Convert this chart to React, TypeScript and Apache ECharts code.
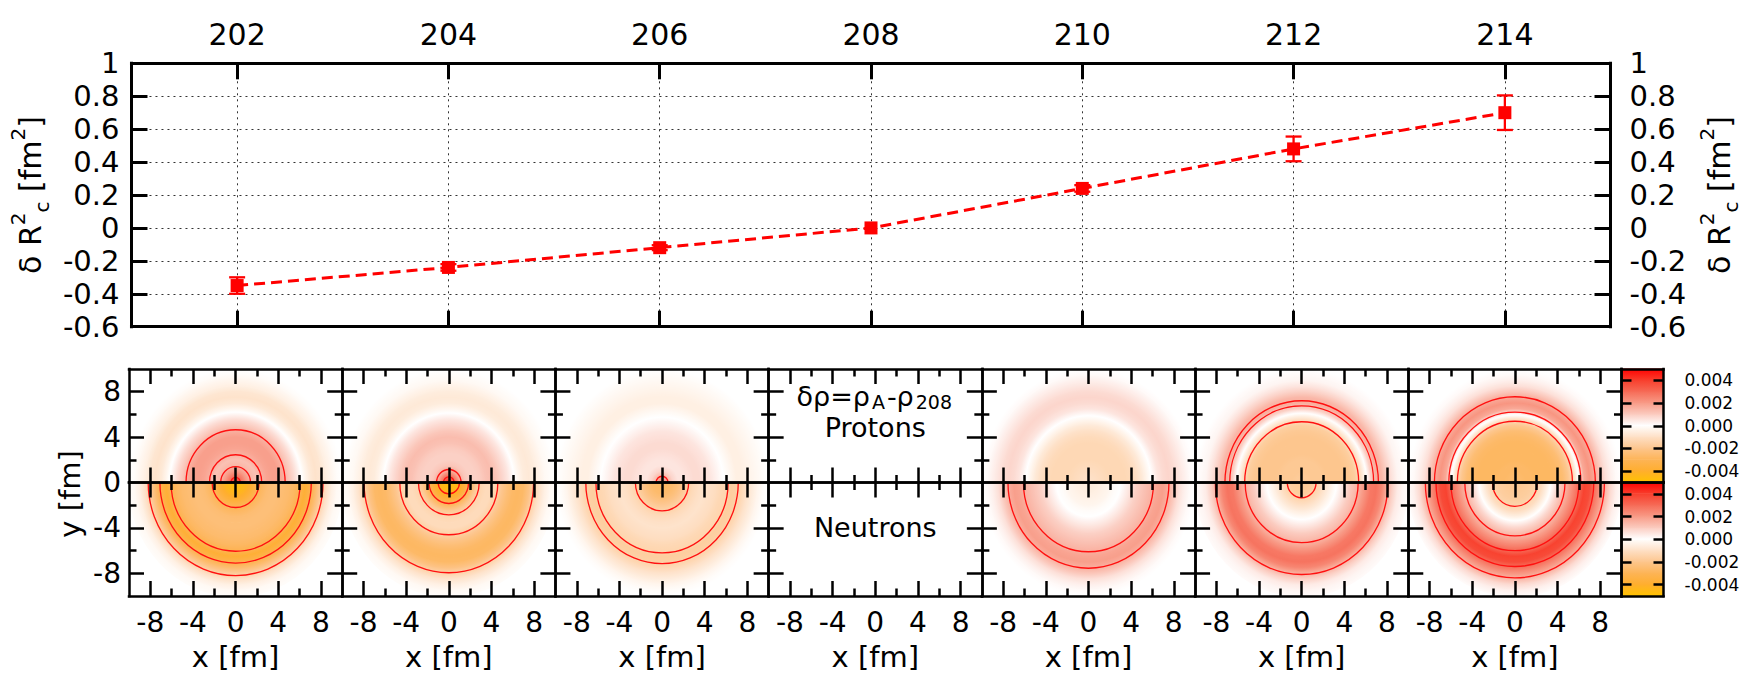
import React, { useEffect, useRef } from 'react';
import * as echarts from 'echarts';

const W = 1749;
const H = 677;
const FONT = '"DejaVu Sans", "Liberation Sans", Arial, sans-serif';

// ---------------- top panel: delta R^2_c versus mass number ----------------
const MASS = [202, 204, 206, 208, 210, 212, 214];
const DELTA_R2 = [-0.35, -0.24, -0.12, 0.0, 0.24, 0.48, 0.7];
const DELTA_R2_ERR = [0.05, 0.02, 0.015, 0, 0.02, 0.075, 0.105];
const TOP_X_MIN = 201;
const TOP_X_MAX = 215;
const TOP_Y_MIN = -0.6;
const TOP_Y_MAX = 1;
const TOP_Y_STEP = 0.2;

// ---------------- bottom panels: radial density difference profiles ----------------
const PANEL_A = [202, 204, 206, 208, 210, 212, 214];
const RADII = [0, 0.5, 1, 1.5, 2, 2.5, 3, 3.5, 4, 4.5, 5, 5.5, 6, 6.5, 7, 7.5, 8, 8.5, 9, 9.5, 10];

const DRHO_P202 = [0.0042, 0.0029, 0.002, 0.0014, 0.0012, 0.00155, 0.0018, 0.0019, 0.0019, 0.0016, 0.0011, 0.0007, 0.0002, -0.0003, -0.0007, -0.0009, -0.0008, -0.0005, -0.0003, -0.0001, 0];
const DRHO_N202 = [-0.0047, -0.0046, -0.0043, -0.0038, -0.0032, -0.0028, -0.0025, -0.0024, -0.0024, -0.0025, -0.0026, -0.0028, -0.0031, -0.0038, -0.0033, -0.0026, -0.0018, -0.001, -0.0005, -0.0002, -0.0001];
const DRHO_P204 = [0.0042, 0.003, 0.0017, 0.0011, 0.0009, 0.0009, 0.001, 0.0012, 0.0013, 0.0011, 0.0008, 0.0005, 0.0001, -0.0003, -0.0006, -0.0007, -0.0006, -0.0004, -0.0002, -0.0001, 0];
const DRHO_N204 = [-0.0047, -0.0046, -0.0043, -0.0036, -0.0028, -0.0019, -0.0014, -0.0012, -0.0012, -0.0015, -0.002, -0.0024, -0.0027, -0.0028, -0.0027, -0.0022, -0.0015, -0.0009, -0.0005, -0.0002, -0.0001];
const DRHO_P206 = [0.0025, 0.0015, 0.0008, 0.0005, 0.0005, 0.0006, 0.0007, 0.0007, 0.0006, 0.0005, 0.0003, 0.0001, -0.0001, -0.0003, -0.0005, -0.0005, -0.0004, -0.0003, -0.0002, -0.0001, 0];
const DRHO_N206 = [-0.0028, -0.0027, -0.0026, -0.0023, -0.0019, -0.0015, -0.0012, -0.001, -0.0009, -0.001, -0.0011, -0.0013, -0.0014, -0.0017, -0.0016, -0.0013, -0.0009, -0.0006, -0.0003, -0.0001, 0];
const DRHO_P210 = [-0.0009, -0.001, -0.0011, -0.0012, -0.0013, -0.0013, -0.0013, -0.0013, -0.0012, -0.001, -0.0007, -0.0003, 0.0001, 0.0005, 0.0007, 0.0008, 0.0007, 0.0005, 0.0003, 0.0001, 0];
const DRHO_N210 = [-0.0006, -0.0006, -0.0005, -0.0004, -0.0003, -0.0001, 0, 0.0003, 0.0006, 0.0009, 0.0011, 0.0013, 0.0015, 0.0018, 0.0019, 0.0016, 0.0011, 0.0006, 0.0003, 0.0001, 0];
const DRHO_P212 = [-0.0018, -0.0018, -0.0019, -0.0019, -0.0019, -0.002, -0.002, -0.002, -0.002, -0.0019, -0.0017, -0.0011, -0.0002, 0.0009, 0.0016, 0.0014, 0.0009, 0.0005, 0.0002, 0.0001, 0];
const DRHO_N212 = [-0.0018, -0.0018, -0.0017, -0.0014, -0.001, -0.0006, -0.0002, 0.0002, 0.0006, 0.001, 0.0013, 0.0017, 0.0022, 0.0027, 0.0028, 0.0024, 0.0016, 0.0009, 0.0004, 0.0002, 0.0001];
const DRHO_P214 = [-0.0026, -0.0026, -0.0027, -0.0027, -0.0028, -0.0028, -0.0028, -0.0028, -0.0027, -0.0025, -0.002, -0.0012, 0.0001, 0.0017, 0.0021, 0.0017, 0.0011, 0.0006, 0.0003, 0.0001, 0];
const DRHO_N214 = [-0.0019, -0.0019, -0.0018, -0.0017, -0.0015, -0.0011, -0.0005, 0.0002, 0.0008, 0.0013, 0.0018, 0.0024, 0.003, 0.0039, 0.0037, 0.0028, 0.0021, 0.0014, 0.0007, 0.0003, 0.0001];

// contour radii (fm)
const CONTOUR_P202 = [0.45, 1.4, 2.45, 4.65];
const CONTOUR_N202 = [2.2, 6.05, 7.1, 8.2];
const CONTOUR_P204 = [0.5, 1.15];
const CONTOUR_N204 = [1.0, 1.85, 2.85, 4.6, 7.95];
const CONTOUR_P206 = [0.55];
const CONTOUR_N206 = [2.5, 6.2, 7.15];
const CONTOUR_P210: number[] = [];
const CONTOUR_N210 = [6.1, 7.55];
const CONTOUR_P212 = [5.35, 6.75, 7.2];
const CONTOUR_N212 = [1.35, 5.3, 8.1];
const CONTOUR_P214 = [5.4, 6.2, 7.55];
const CONTOUR_N214 = [2.1, 4.7, 6.0, 7.4, 8.4];

const PROFILES: Record<string, number[]> = {
  P202: DRHO_P202, N202: DRHO_N202, P204: DRHO_P204, N204: DRHO_N204,
  P206: DRHO_P206, N206: DRHO_N206, P210: DRHO_P210, N210: DRHO_N210,
  P212: DRHO_P212, N212: DRHO_N212, P214: DRHO_P214, N214: DRHO_N214,
};
const CONTOURS: Record<string, number[]> = {
  P202: CONTOUR_P202, N202: CONTOUR_N202, P204: CONTOUR_P204, N204: CONTOUR_N204,
  P206: CONTOUR_P206, N206: CONTOUR_N206, P210: CONTOUR_P210, N210: CONTOUR_N210,
  P212: CONTOUR_P212, N212: CONTOUR_N212, P214: CONTOUR_P214, N214: CONTOUR_N214,
};

const PANEL_TICKS_MAJOR = [-8, -4, 0, 4, 8];
const PANEL_TICKS_MINOR = [-6, -2, 2, 6];
const PANEL_Y_MAJOR_P = [4, 8];
const PANEL_Y_MINOR_P = [2, 6];
const PANEL_Y_MAJOR_N = [-8, -4];
const PANEL_Y_MINOR_N = [-6, -2];
const PANEL_Y_LABELS_P = [0, 4, 8];
const PANEL_Y_LABELS_N = [-8, -4];

// colour bar
const CB_MIN = -0.005;
const CB_MAX = 0.005;
const CB_TICKS = [-0.004, -0.002, 0, 0.002, 0.004];
const PALETTE_VALUES = [-0.005, -0.004, -0.003, -0.002, -0.001, 0, 0.001, 0.002, 0.003, 0.004, 0.005];
const PALETTE_COLORS = ['#ffc200', '#ffae2e', '#fdb457', '#fdc68e', '#fee0c6', '#ffffff', '#fbcbbf', '#f89a86', '#f66a56', '#f83e2c', '#ff0000'];

// ---------------- layout ----------------
const L = 129;
const R = 1621.5;
const TOP_T = 63.3;
const TOP_B = 326.7;
const PW = (R - L) / 7;
const P_T = 369;
const P_M = 482.5;
const P_B = 596;
const CB_W = 42;
const PLW = 2.5;

function colorAt(v: number): string {
  let t = (v - CB_MIN) / (CB_MAX - CB_MIN);
  t = Math.max(0, Math.min(1, t));
  return echarts.color.lerp(t, PALETTE_COLORS) as string;
}

function halfAngles(half: string) {
  return half === 'P' ? [Math.PI, 2 * Math.PI] : [0, Math.PI];
}

function ringRender(half: string) {
  const [a0, a1] = halfAngles(half);
  return (params: any, api: any) => {
    const r0 = api.value(0);
    const r1 = api.value(1);
    const v0 = api.value(2);
    const v1 = api.value(3);
    const c = api.coord([0, 0]);
    const sx = api.size([1, 0])[0];
    const sy = api.size([0, 1])[1];
    const R0 = r0 * sx;
    const Rd = r1 * sx;
    const R1 = Rd + 0.9;
    const stops: any[] = [];
    const n = 8;
    for (let k = 0; k <= n; k++) {
      const t = k / n;
      stops.push({ offset: (R0 + (Rd - R0) * t) / R1, color: colorAt(v0 + (v1 - v0) * t) });
    }
    stops.push({ offset: 1, color: colorAt(v1) });
    return {
      type: 'sector',
      x: c[0],
      y: c[1],
      scaleY: sy / sx,
      shape: { cx: 0, cy: 0, r0: R0, r: R1, startAngle: a0, endAngle: a1, clockwise: true },
      style: { fill: new echarts.graphic.RadialGradient(0, 0, R1, stops, true) },
    };
  };
}

function contourRender(half: string) {
  const [a0, a1] = halfAngles(half);
  return (params: any, api: any) => {
    const r = api.value(0);
    const c = api.coord([0, 0]);
    const sx = api.size([1, 0])[0];
    const sy = api.size([0, 1])[1];
    return {
      type: 'arc',
      x: c[0],
      y: c[1],
      scaleY: sy / sx,
      shape: { cx: 0, cy: 0, r: r * sx, startAngle: a0, endAngle: a1, clockwise: true },
      style: { stroke: '#ff1010', lineWidth: 1.3, fill: 'none', strokeNoScale: true },
    };
  };
}

const lineStyleBlack = (w: number) => ({ color: '#000', width: w, cap: 'square' });

function panelAxis(kind: 'x' | 'y', gi: number, position: string, min: number, max: number, ticks: number[], len: number, withLine: boolean, labels?: number[], extra?: any) {
  const ax: any = {
    gridIndex: gi,
    type: 'value',
    position,
    min,
    max,
    z: 5,
    axisLine: { show: withLine, onZero: false, lineStyle: lineStyleBlack(PLW) },
    axisTick: { show: true, inside: true, length: len, customValues: ticks, lineStyle: { color: '#000', width: PLW } },
    axisLabel: labels
      ? { show: true, customValues: labels, margin: kind === 'x' ? 12 : 8, fontSize: 28, color: '#000', fontFamily: FONT }
      : { show: false },
    splitLine: { show: false },
  };
  return Object.assign(ax, extra || {});
}

function buildOption(): any {
  const grid: any[] = [];
  const xAxis: any[] = [];
  const yAxis: any[] = [];
  const series: any[] = [];

  // ---------------- top plot ----------------
  grid.push({ left: L, top: TOP_T, width: R - L, height: TOP_B - TOP_T });
  const dotted = { color: '#333', width: 1, type: [2, 4] };
  const yTitle = '{t|δ R}{sup|2}{sub|c}{t| [fm}{sup|2}{t|]}';
  const yTitleStyle = {
    color: '#000',
    fontFamily: FONT,
    fontSize: 30,
    rich: {
      t: { fontSize: 30, lineHeight: 44, fontFamily: FONT, color: '#000' },
      sup: { fontSize: 20, lineHeight: 22, verticalAlign: 'top', fontFamily: FONT, color: '#000' },
      sub: { fontSize: 20, lineHeight: 22, verticalAlign: 'bottom', fontFamily: FONT, color: '#000' },
    },
  };
  xAxis.push({
    gridIndex: 0, type: 'value', position: 'top', min: TOP_X_MIN, max: TOP_X_MAX,
    axisLine: { show: true, onZero: false, lineStyle: lineStyleBlack(3) },
    axisTick: { show: true, inside: true, length: 16, customValues: MASS, lineStyle: { color: '#000', width: 3 } },
    axisLabel: { show: true, customValues: MASS, margin: 14, fontSize: 30, color: '#000', fontFamily: FONT },
    splitLine: { show: true, lineStyle: dotted },
  });
  xAxis.push({
    gridIndex: 0, type: 'value', position: 'bottom', min: TOP_X_MIN, max: TOP_X_MAX,
    axisLine: { show: true, onZero: false, lineStyle: lineStyleBlack(3) },
    axisTick: { show: true, inside: true, length: 16, customValues: MASS, lineStyle: { color: '#000', width: 3 } },
    axisLabel: { show: false },
    splitLine: { show: false },
  });
  yAxis.push({
    gridIndex: 0, type: 'value', position: 'left', min: TOP_Y_MIN, max: TOP_Y_MAX, interval: TOP_Y_STEP,
    axisLine: { show: true, onZero: false, lineStyle: lineStyleBlack(3) },
    axisTick: { show: true, inside: true, length: 16, lineStyle: { color: '#000', width: 3 } },
    axisLabel: { margin: 12, fontSize: 29, color: '#000', fontFamily: FONT },
    splitLine: { show: true, lineStyle: dotted },
    name: yTitle, nameLocation: 'middle', nameRotate: 90, nameGap: 68, nameTextStyle: yTitleStyle,
  });
  yAxis.push({
    gridIndex: 0, type: 'value', position: 'right', min: TOP_Y_MIN, max: TOP_Y_MAX, interval: TOP_Y_STEP,
    axisLine: { show: true, onZero: false, lineStyle: lineStyleBlack(3) },
    axisTick: { show: true, inside: true, length: 16, lineStyle: { color: '#000', width: 3 } },
    axisLabel: { margin: 19, fontSize: 29, color: '#000', fontFamily: FONT },
    splitLine: { show: false },
    name: yTitle, nameLocation: 'middle', nameRotate: 90, nameGap: 80, nameTextStyle: yTitleStyle,
  });
  series.push({
    type: 'custom',
    xAxisIndex: 0,
    yAxisIndex: 0,
    z: 3,
    silent: true,
    data: MASS.map((m, i) => [m, DELTA_R2[i] - DELTA_R2_ERR[i], DELTA_R2[i] + DELTA_R2_ERR[i], DELTA_R2_ERR[i]]).filter((d) => d[3] > 0),
    renderItem: (params: any, api: any) => {
      const x = api.value(0);
      const pLo = api.coord([x, api.value(1)]);
      const pHi = api.coord([x, api.value(2)]);
      const cap = 8;
      const st = { stroke: '#ff0000', lineWidth: 2.3 };
      return {
        type: 'group',
        children: [
          { type: 'line', shape: { x1: pLo[0], y1: pLo[1], x2: pHi[0], y2: pHi[1] }, style: st },
          { type: 'line', shape: { x1: pLo[0] - cap, y1: pLo[1], x2: pLo[0] + cap, y2: pLo[1] }, style: st },
          { type: 'line', shape: { x1: pHi[0] - cap, y1: pHi[1], x2: pHi[0] + cap, y2: pHi[1] }, style: st },
        ],
      };
    },
  });
  series.push({
    type: 'line',
    xAxisIndex: 0,
    yAxisIndex: 0,
    z: 4,
    data: MASS.map((m, i) => [m, DELTA_R2[i]]),
    symbol: 'rect',
    symbolSize: 13,
    itemStyle: { color: '#ff0000' },
    lineStyle: { color: '#ff0000', width: 3, type: [11, 6] },
  });

  // ---------------- bottom panels ----------------
  PANEL_A.forEach((A, p) => {
    ['P', 'N'].forEach((half) => {
      const gi = grid.length;
      grid.push({ left: L + p * PW, top: half === 'P' ? P_T : P_M, width: PW, height: half === 'P' ? P_M - P_T : P_B - P_M });
      const yMin = half === 'P' ? 0 : -10;
      const yMax = half === 'P' ? 10 : 0;
      const xi = xAxis.length;
      const isBottom = half === 'N';
      xAxis.push(panelAxis('x', gi, 'top', -10, 10, PANEL_TICKS_MAJOR, 15, true));
      xAxis.push(panelAxis('x', gi, 'top', -10, 10, PANEL_TICKS_MINOR, 7.5, false));
      xAxis.push(
        panelAxis('x', gi, 'bottom', -10, 10, PANEL_TICKS_MAJOR, 15, true, isBottom ? PANEL_TICKS_MAJOR : undefined,
          isBottom
            ? { name: 'x [fm]', nameLocation: 'middle', nameGap: 46, nameTextStyle: { fontSize: 29, color: '#000', fontFamily: FONT } }
            : undefined)
      );
      xAxis.push(panelAxis('x', gi, 'bottom', -10, 10, PANEL_TICKS_MINOR, 7.5, false));
      const yi = yAxis.length;
      const yMaj = half === 'P' ? PANEL_Y_MAJOR_P : PANEL_Y_MAJOR_N;
      const yMin2 = half === 'P' ? PANEL_Y_MINOR_P : PANEL_Y_MINOR_N;
      const yLab = p === 0 ? (half === 'P' ? PANEL_Y_LABELS_P : PANEL_Y_LABELS_N) : undefined;
      yAxis.push(panelAxis('y', gi, 'left', yMin, yMax, yMaj, 15, true, yLab));
      yAxis.push(panelAxis('y', gi, 'left', yMin, yMax, yMin2, 7.5, false));
      yAxis.push(panelAxis('y', gi, 'right', yMin, yMax, yMaj, 15, true));
      yAxis.push(panelAxis('y', gi, 'right', yMin, yMax, yMin2, 7.5, false));

      const key = half + A;
      const prof = PROFILES[key];
      if (prof) {
        const data: number[][] = [];
        for (let i = 0; i < RADII.length - 1; i++) data.push([RADII[i], RADII[i + 1], prof[i], prof[i + 1]]);
        series.push({ type: 'custom', xAxisIndex: xi, yAxisIndex: yi, z: 1, silent: true, data, renderItem: ringRender(half) });
      }
      const cont = CONTOURS[key];
      if (cont && cont.length) {
        series.push({ type: 'custom', xAxisIndex: xi, yAxisIndex: yi, z: 2, silent: true, data: cont.map((r) => [r]), renderItem: contourRender(half) });
      }
    });
  });

  // ---------------- colour bars ----------------
  ['P', 'N'].forEach((half) => {
    const gi = grid.length;
    grid.push({ left: R, top: half === 'P' ? P_T : P_M, width: CB_W, height: half === 'P' ? P_M - P_T : P_B - P_M });
    const xi = xAxis.length;
    const base = { gridIndex: gi, type: 'value', min: 0, max: 1, z: 5, axisTick: { show: false }, axisLabel: { show: false }, splitLine: { show: false } };
    xAxis.push({ ...base, position: 'bottom', axisLine: { show: true, onZero: false, lineStyle: lineStyleBlack(PLW) } });
    xAxis.push({ ...base, position: 'top', axisLine: { show: true, onZero: false, lineStyle: lineStyleBlack(PLW) } });
    const yi = yAxis.length;
    const yb = {
      gridIndex: gi, type: 'value', min: CB_MIN, max: CB_MAX, z: 5,
      axisLine: { show: true, onZero: false, lineStyle: lineStyleBlack(PLW) },
      axisTick: { show: true, inside: true, length: 10, customValues: CB_TICKS, lineStyle: { color: '#000', width: PLW } },
      splitLine: { show: false },
    };
    yAxis.push({ ...yb, position: 'left', axisLabel: { show: false } });
    yAxis.push({
      ...yb, position: 'right',
      axisLabel: { show: true, customValues: CB_TICKS, margin: 21, fontSize: 17, color: '#000', fontFamily: FONT, formatter: (v: number) => v.toFixed(3) },
    });
    const data: number[][] = [];
    for (let i = 0; i < PALETTE_VALUES.length - 1; i++) data.push([PALETTE_VALUES[i], PALETTE_VALUES[i + 1]]);
    series.push({
      type: 'custom', xAxisIndex: xi, yAxisIndex: yi, z: 1, silent: true, data,
      renderItem: (params: any, api: any) => {
        const v0 = api.value(0);
        const v1 = api.value(1);
        const p0 = api.coord([0, v0]);
        const p1 = api.coord([1, v1]);
        const top = p1[1] - 0.6;
        return {
          type: 'rect',
          shape: { x: p0[0], y: top, width: p1[0] - p0[0], height: p0[1] - top },
          style: { fill: new echarts.graphic.LinearGradient(0, 1, 0, 0, [{ offset: 0, color: colorAt(v0) }, { offset: 1, color: colorAt(v1) }]) },
        };
      },
    });
  });

  const cx4 = L + 3.5 * PW;
  const graphic = [
    {
      type: 'text', x: 70, y: 494, rotation: Math.PI / 2,
      style: { text: 'y [fm]', fontSize: 29, fontFamily: FONT, fill: '#000', align: 'center', verticalAlign: 'middle' },
    },
    {
      type: 'text', x: cx4, y: 396,
      style: {
        text: '{m|δρ=ρ}{s|A}{m|-ρ}{s|208}', fill: '#000', align: 'center', verticalAlign: 'middle',
        rich: {
          m: { fontSize: 27, lineHeight: 30, fontFamily: FONT, fill: '#000' },
          s: { fontSize: 19, lineHeight: 17, verticalAlign: 'bottom', fontFamily: FONT, fill: '#000', padding: [0, 2, 0, 2] },
        },
      },
    },
    {
      type: 'text', x: cx4, y: 427,
      style: { text: 'Protons', fontSize: 27, lineHeight: 27, fontFamily: FONT, fill: '#000', align: 'center', verticalAlign: 'middle' },
    },
    {
      type: 'text', x: cx4, y: 527,
      style: { text: 'Neutrons', fontSize: 27, lineHeight: 27, fontFamily: FONT, fill: '#000', align: 'center', verticalAlign: 'middle' },
    },
  ];

  return {
    animation: false,
    backgroundColor: '#ffffff',
    textStyle: { fontFamily: FONT },
    grid,
    xAxis,
    yAxis,
    series,
    graphic,
  };
}

export default function App() {
  const ref = useRef<HTMLDivElement>(null);
  useEffect(() => {
    if (!ref.current) return;
    const chart = echarts.init(ref.current, null, { renderer: 'svg' });
    chart.setOption(buildOption());
    return () => {
      chart.dispose();
    };
  }, []);
  return <div ref={ref} style={{ position: 'absolute', left: 0, top: 0, width: W, height: H, background: '#fff' }} />;
}
